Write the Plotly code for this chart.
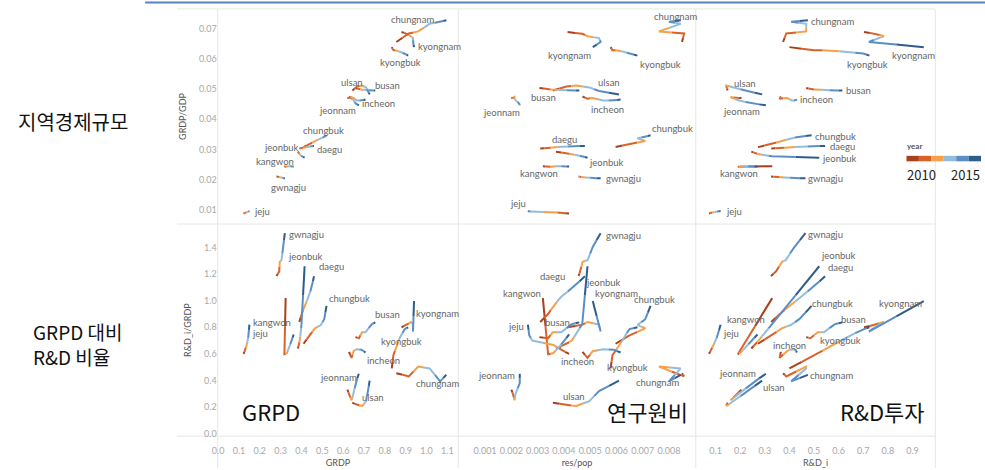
import plotly.graph_objects as go

# ---------------- data ----------------
YEARS = [2010, 2011, 2012, 2013, 2014, 2015]
REGIONS = ["chungnam", "kyongnam", "kyongbuk", "ulsan", "busan", "incheon", "jeonnam",
           "chungbuk", "jeonbuk", "daegu", "kangwon", "gwnagju", "jeju"]

GRDP = {
    "chungnam": [0.855, 0.915, 0.96, 1.015, 1.065, 1.095],
    "kyongnam": [0.88, 0.905, 0.925, 0.935, 0.935, 0.94],
    "kyongbuk": [0.833, 0.841, 0.857, 0.873, 0.896, 0.912],
    "ulsan":    [0.644, 0.667, 0.691, 0.71, 0.719, 0.727],
    "busan":    [0.659, 0.675, 0.691, 0.707, 0.738, 0.754],
    "incheon":  [0.628, 0.64, 0.65, 0.665, 0.69, 0.707],
    "jeonnam":  [0.62, 0.63, 0.64, 0.65, 0.66, 0.675],
    "chungbuk": [0.41, 0.438, 0.465, 0.493, 0.509, 0.52],
    "jeonbuk":  [0.383, 0.388, 0.392, 0.396, 0.40, 0.415],
    "daegu":    [0.39, 0.40, 0.415, 0.435, 0.45, 0.46],
    "kangwon":  [0.324, 0.318, 0.33, 0.34, 0.352, 0.362],
    "gwnagju":  [0.28, 0.293, 0.296, 0.304, 0.312, 0.32],
    "jeju":     [0.122, 0.13, 0.137, 0.142, 0.146, 0.15],
}
RES_POP = {
    "chungnam": [0.00850, 0.00858, 0.00762, 0.00845, 0.00800, 0.00845],
    "kyongnam": [0.00414, 0.00471, 0.0049, 0.00534, 0.0054, 0.0051],
    "kyongbuk": [0.00578, 0.00585, 0.0061, 0.0063, 0.0065, 0.0068],
    "ulsan":    [0.00358, 0.0041, 0.00447, 0.00497, 0.00534, 0.0061],
    "busan":    [0.00307, 0.0034, 0.00358, 0.0039, 0.0043, 0.00459],
    "incheon":  [0.00471, 0.0049, 0.0051, 0.0055, 0.0059, 0.00616],
    "jeonnam":  [0.00200, 0.00208, 0.00212, 0.00216, 0.00232, 0.00232],
    "chungbuk": [0.00597, 0.0065, 0.0071, 0.0068, 0.0071, 0.0073],
    "jeonbuk":  [0.0037, 0.0041, 0.0043, 0.0045, 0.0047, 0.0049],
    "daegu":    [0.0031, 0.0034, 0.0036, 0.0039, 0.0044, 0.0048],
    "kangwon":  [0.0032, 0.0034, 0.0036, 0.0038, 0.0040, 0.0042],
    "gwnagju":  [0.00456, 0.00462, 0.00471, 0.0049, 0.0051, 0.0054],
    "jeju":     [0.0042, 0.0039, 0.0036, 0.0028, 0.00268, 0.00263],
}
RND_I = {
    "chungnam": [0.374, 0.387, 0.468, 0.468, 0.407, 0.475],
    "kyongnam": [0.703, 0.75, 0.784, 0.763, 0.723, 0.946],
    "kyongbuk": [0.40, 0.50, 0.57, 0.635, 0.70, 0.725],
    "ulsan":    [0.149, 0.143, 0.143, 0.173, 0.229, 0.289],
    "busan":    [0.468, 0.485, 0.515, 0.54, 0.585, 0.615],
    "incheon":  [0.365, 0.36, 0.39, 0.41, 0.425, 0.43],
    "jeonnam":  [0.205, 0.183, 0.16, 0.195, 0.25, 0.304],
    "chungbuk": [0.272, 0.325, 0.37, 0.405, 0.44, 0.49],
    "jeonbuk":  [0.245, 0.262, 0.275, 0.30, 0.33, 0.521],
    "daegu":    [0.326, 0.36, 0.40, 0.447, 0.50, 0.545],
    "kangwon":  [0.33, 0.19, 0.20, 0.22, 0.245, 0.27],
    "gwnagju":  [0.325, 0.345, 0.37, 0.385, 0.42, 0.465],
    "jeju":     [0.073, 0.082, 0.091, 0.10, 0.108, 0.12],
}
GRDP_GDP = {
    "chungnam": [0.0655, 0.0683, 0.0690, 0.0715, 0.0722, 0.0727],
    "kyongnam": [0.0688, 0.0682, 0.0674, 0.0668, 0.0655, 0.0638],
    "kyongbuk": [0.0638, 0.0628, 0.0627, 0.0622, 0.0617, 0.0610],
    "ulsan":    [0.0495, 0.0508, 0.0511, 0.0505, 0.0493, 0.0482],
    "busan":    [0.0503, 0.0500, 0.0497, 0.0497, 0.0495, 0.0495],
    "incheon":  [0.0475, 0.0468, 0.0470, 0.0462, 0.0462, 0.0465],
    "jeonnam":  [0.0470, 0.0470, 0.0473, 0.0462, 0.0452, 0.0446],
    "chungbuk": [0.0308, 0.0318, 0.0328, 0.0337, 0.0342, 0.0347],
    "jeonbuk":  [0.0293, 0.0288, 0.0284, 0.0281, 0.0278, 0.0273],
    "daegu":    [0.0303, 0.0305, 0.0307, 0.0309, 0.0311, 0.0312],
    "kangwon":  [0.0245, 0.0243, 0.0244, 0.0245, 0.0244, 0.0244],
    "gwnagju":  [0.0211, 0.0210, 0.0208, 0.0207, 0.0206, 0.0205],
    "jeju":     [0.0089, 0.0091, 0.0093, 0.0094, 0.0096, 0.0097],
}
RND_RATIO = {
    "chungnam": [0.454, 0.43, 0.504, 0.49, 0.393, 0.442],
    "kyongnam": [0.80, 0.82, 0.84, 0.82, 0.768, 0.998],
    "kyongbuk": [0.49, 0.59, 0.66, 0.726, 0.787, 0.80],
    "ulsan":    [0.232, 0.215, 0.207, 0.244, 0.319, 0.398],
    "busan":    [0.726, 0.718, 0.763, 0.763, 0.824, 0.837],
    "incheon":  [0.615, 0.57, 0.62, 0.635, 0.63, 0.61],
    "jeonnam":  [0.33, 0.29, 0.25, 0.30, 0.38, 0.45],
    "chungbuk": [0.676, 0.739, 0.793, 0.817, 0.861, 0.961],
    "jeonbuk":  [0.64, 0.675, 0.70, 0.76, 0.825, 1.26],
    "daegu":    [0.84, 0.90, 0.96, 1.03, 1.11, 1.185],
    "kangwon":  [1.02, 0.597, 0.606, 0.647, 0.696, 0.746],
    "gwnagju":  [1.187, 1.22, 1.294, 1.306, 1.405, 1.509],
    "jeju":     [0.60, 0.63, 0.667, 0.70, 0.74, 0.82],
}

X_VARS = [GRDP, RES_POP, RND_I]
Y_VARS = [GRDP_GDP, RND_RATIO]
X_TITLES = ["GRDP", "res/pop", "R&D_i"]
Y_TITLES = ["GRDP/GDP", "R&D_i/GRDP"]
X_TICKS = [[0.0, 0.1, 0.2, 0.3, 0.4, 0.5, 0.6, 0.7, 0.8, 0.9, 1.0, 1.1],
           [0.001, 0.002, 0.003, 0.004, 0.005, 0.006, 0.007, 0.008],
           [0.1, 0.2, 0.3, 0.4, 0.5, 0.6, 0.7, 0.8, 0.9]]
Y_TICKS = [[0.01, 0.02, 0.03, 0.04, 0.05, 0.06, 0.07],
           [0.0, 0.2, 0.4, 0.6, 0.8, 1.0, 1.2, 1.4]]
PANEL_TEXT = ["GRPD", "연구원비", "R&D투자"]
ROW_HEADERS = ["지역경제규모", "GRPD 대비<br>R&D 비율"]

# ---------------- style / layout ----------------
YEAR_COLORS = ["#a8411c", "#d9622a", "#f5a04a", "#94bcdc", "#5b8fc3", "#2e5d8c"]
X_FMT = [".1f", ".3f", ".1f"]
Y_FMT = [".2f", ".1f"]
X_RANGES = [[-0.002, 1.152], [-0.0000227, 0.009023], [0.0192, 0.9929]]
Y_RANGES = [[0.0054, 0.0764], [-0.02, 1.578]]
W, H = 985, 470
COLS = [(213, 455), (455, 694), (694, 935)]
ROWS = [(9, 225), (225, 438)]
GRID = "#e6e6e6"
LABEL_FONT = dict(family="Lato, Open Sans, sans-serif", size=9.5, color="#666666")
TICK_FONT = dict(family="Lato, Open Sans, sans-serif", size=9, color="#a8a8a8")
TITLE_FONT = dict(family="Lato, Open Sans, sans-serif", size=9, color="#555555")
KFONT = "Noto Sans CJK KR"

# label placement: (xanchor, xshift, yshift) relative to 2015 point
LABEL_POS = {
    (0, 0): {"chungnam": ("right", -10, 1), "kyongnam": ("left", 2, 1), "kyongbuk": ("center", -8, -7),
             "ulsan": ("center", -18, 12), "busan": ("left", -2, 5), "incheon": ("left", -5, -4),
             "jeonnam": ("right", -1, -5), "chungbuk": ("center", -3, 5), "jeonbuk": ("right", -4, 10),
             "daegu": ("left", 1, -4), "kangwon": ("right", 2, 5), "gwnagju": ("center", 4, -9),
             "jeju": ("left", 3, 0)},
    (0, 1): {"chungnam": ("center", -5, 4), "kyongnam": ("right", 0, -8), "kyongbuk": ("left", 1, -9),
             "ulsan": ("center", -10, 12), "busan": ("right", -21, -7), "incheon": ("center", -13, -10),
             "jeonnam": ("right", 2, -7), "chungbuk": ("left", -1, 7), "daegu": ("right", -6, 6),
             "jeonbuk": ("left", 0, -5), "kangwon": ("center", -30, -7), "gwnagju": ("left", 3, 0),
             "jeju": ("right", 0, 8)},
    (0, 2): {"chungnam": ("left", 1, -1), "kyongnam": ("center", -10, -8), "kyongbuk": ("center", -2, -9),
             "ulsan": ("center", -17, 11), "busan": ("left", 2, 0), "incheon": ("left", 1, 0),
             "jeonnam": ("right", -4, -6), "chungbuk": ("left", 1, -1), "daegu": ("left", 3, -1),
             "jeonbuk": ("left", 1, -1), "kangwon": ("center", -18, -7), "gwnagju": ("left", 1, 0),
             "jeju": ("left", 3, 0)},
    (1, 0): {"gwnagju": ("left", 2, -1), "jeonbuk": ("center", 1, 10), "daegu": ("left", 3, 10),
             "chungbuk": ("left", 0, 7), "busan": ("left", -2, 8), "kyongnam": ("left", 0, -12),
             "kangwon": ("right", -1, 12), "jeju": ("left", 1, -9), "kyongbuk": ("center", -7, -14),
             "incheon": ("left", 0, -8), "jeonnam": ("right", 0, -4), "chungnam": ("center", -9, -9),
             "ulsan": ("center", 3, -17)},
    (1, 1): {"gwnagju": ("left", 3, -2), "daegu": ("right", -18, 0), "jeonbuk": ("left", -3, -16),
             "kyongnam": ("left", 0, 8), "kangwon": ("right", -26, 41), "chungbuk": ("center", 4, 6),
             "jeju": ("right", -2, -2), "busan": ("right", -7, 0), "incheon": ("right", -25, -9),
             "kyongbuk": ("left", -32, -40), "jeonnam": ("right", -3, -2), "chungnam": ("right", 0, -8),
             "ulsan": ("right", -32, -16)},
    (1, 2): {"gwnagju": ("left", 1, -1), "jeonbuk": ("left", 0, 11), "daegu": ("left", 1, 9),
             "chungbuk": ("left", -2, 2), "kyongnam": ("right", 0, -2), "busan": ("left", -3, 3),
             "kangwon": ("right", 10, 15), "jeju": ("left", 0, -9), "kyongbuk": ("right", -6, -13),
             "incheon": ("center", -7, 7), "jeonnam": ("right", -8, 0), "chungnam": ("left", 0, -1),
             "ulsan": ("left", -1, -7)},
}


def pxx(x):
    return x / W


def pyy(y):
    return 1 - y / H


def mid(a, b):
    return (a + b) / 2


fig = go.Figure()
annotations = []
layout_axes = {}

for r in range(2):
    for c in range(3):
        idx = r * 3 + c + 1
        xa = "x" if idx == 1 else f"x{idx}"
        ya = "y" if idx == 1 else f"y{idx}"
        XV, YV = X_VARS[c], Y_VARS[r]
        for k in range(len(YEARS)):
            xs, ys = [], []
            for reg in REGIONS:
                X, Y = XV[reg], YV[reg]
                if k > 0:
                    xs.append(mid(X[k - 1], X[k]))
                    ys.append(mid(Y[k - 1], Y[k]))
                xs.append(X[k])
                ys.append(Y[k])
                if k < len(YEARS) - 1:
                    xs.append(mid(X[k], X[k + 1]))
                    ys.append(mid(Y[k], Y[k + 1]))
                xs.append(None)
                ys.append(None)
            fig.add_trace(go.Scatter(x=xs, y=ys, mode="lines", xaxis=xa, yaxis=ya,
                                     line=dict(color=YEAR_COLORS[k], width=2),
                                     showlegend=False, hoverinfo="skip"))
        # labels
        for reg in REGIONS:
            anc, dx, dy = LABEL_POS[(r, c)][reg]
            annotations.append(dict(x=XV[reg][-1], y=YV[reg][-1], xref=xa, yref=ya, text=reg,
                                    showarrow=False, xanchor=anc, yanchor="middle",
                                    xshift=dx, yshift=dy, font=LABEL_FONT))
        xkey = "xaxis" if idx == 1 else f"xaxis{idx}"
        ykey = "yaxis" if idx == 1 else f"yaxis{idx}"
        layout_axes[xkey] = dict(
            domain=[pxx(COLS[c][0]), pxx(COLS[c][1])], range=X_RANGES[c], anchor=ya,
            showgrid=False, zeroline=False, showline=False, ticks="",
            tickvals=X_TICKS[c], tickformat=X_FMT[c], showticklabels=(r == 1),
            tickfont=TICK_FONT, ticklabelstandoff=8,
            title=dict(text=X_TITLES[c] if r == 1 else "", font=TITLE_FONT, standoff=4))
        layout_axes[ykey] = dict(
            domain=[pyy(ROWS[r][1]), pyy(ROWS[r][0])], range=Y_RANGES[r], anchor=xa,
            showgrid=False, zeroline=False, showline=False, ticks="",
            tickvals=Y_TICKS[r], tickformat=Y_FMT[r], showticklabels=(c == 0),
            tickfont=TICK_FONT,
            title=dict(text=Y_TITLES[r] if c == 0 else "", font=TITLE_FONT, standoff=10))

# panel captions
caption_x = [235, 603, 837]
for c in range(3):
    annotations.append(dict(x=pxx(caption_x[c]), y=pyy(413), xref="paper", yref="paper",
                            text=PANEL_TEXT[c], showarrow=False, xanchor="left", yanchor="middle",
                            font=dict(family=KFONT, size=22, color="#111111")))

# row headers
annotations.append(dict(x=pxx(10), y=pyy(122), xref="paper", yref="paper", text=ROW_HEADERS[0],
                        showarrow=False, xanchor="left", yanchor="middle",
                        font=dict(family=KFONT, size=20, color="#111111")))
annotations.append(dict(x=pxx(25), y=pyy(345), xref="paper", yref="paper", text=ROW_HEADERS[1],
                        showarrow=False, xanchor="left", yanchor="middle", align="left",
                        font=dict(family=KFONT, size=19, color="#111111")))

# legend
annotations.append(dict(x=pxx(905), y=pyy(147), xref="paper", yref="paper", text="<b>year</b>",
                        showarrow=False, xanchor="left", yanchor="middle",
                        font=dict(family="Lato, sans-serif", size=8, color="#555555")))
annotations.append(dict(x=pxx(905), y=pyy(175), xref="paper", yref="paper", text=str(YEARS[0]),
                        showarrow=False, xanchor="left", yanchor="middle",
                        font=dict(family=KFONT, size=13, color="#222222")))
annotations.append(dict(x=pxx(982), y=pyy(175), xref="paper", yref="paper", text=str(YEARS[-1]),
                        showarrow=False, xanchor="right", yanchor="middle",
                        font=dict(family=KFONT, size=13, color="#222222")))

shapes = []
# grid / pane borders
for yline in [9, 225, 438]:
    shapes.append(dict(type="line", xref="paper", yref="paper", x0=pxx(172), x1=pxx(935),
                       y0=pyy(yline), y1=pyy(yline), line=dict(color=GRID, width=1), layer="below"))
for xline in [213, 455, 694, 935]:
    shapes.append(dict(type="line", xref="paper", yref="paper", x0=pxx(xline), x1=pxx(xline),
                       y0=pyy(9), y1=pyy(470), line=dict(color=GRID, width=1), layer="below"))
# top slide rule
shapes.append(dict(type="line", xref="paper", yref="paper", x0=pxx(140), x1=1.0,
                   y0=pyy(2.5), y1=pyy(2.5), line=dict(color="#5b80be", width=2)))
# legend colour blocks
lx0, lx1 = 906, 981
bw = (lx1 - lx0) / len(YEARS)
for k, col in enumerate(YEAR_COLORS):
    shapes.append(dict(type="rect", xref="paper", yref="paper",
                       x0=pxx(lx0 + k * bw), x1=pxx(lx0 + (k + 1) * bw),
                       y0=pyy(162), y1=pyy(156.5), line=dict(width=0), fillcolor=col))

fig.update_layout(
    width=W, height=H, margin=dict(l=0, r=0, t=0, b=0),
    paper_bgcolor="white", plot_bgcolor="white",
    showlegend=False, annotations=annotations, shapes=shapes,
    font=dict(family="Lato, sans-serif"),
    **layout_axes,
)

fig.write_html("out.html", config={"displayModeBar": False},
               post_script="document.body.style.margin='0px';document.body.style.overflow='hidden';")
